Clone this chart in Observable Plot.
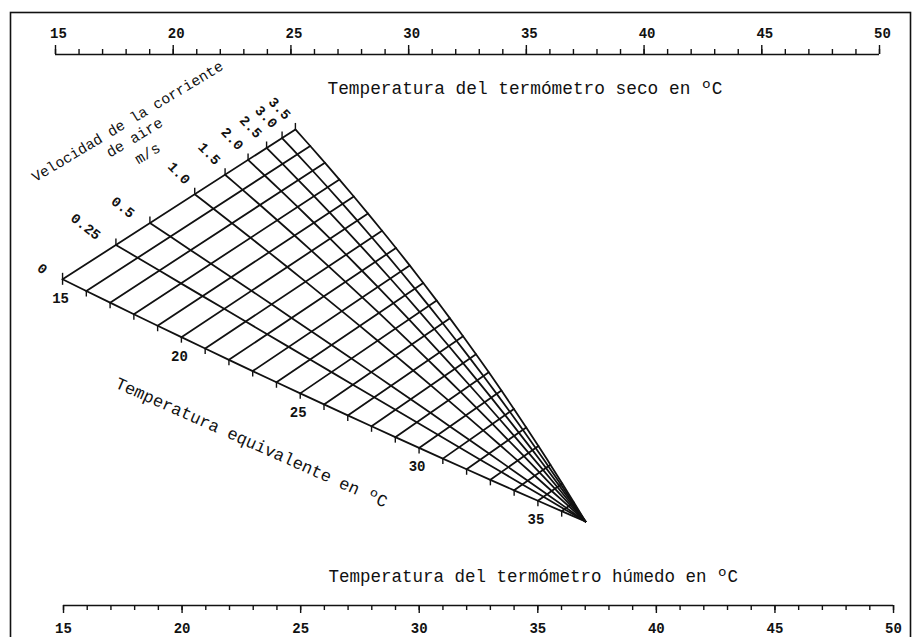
<!DOCTYPE html>
<html>
<head>
<meta charset="utf-8">
<script src="https://cdn.jsdelivr.net/npm/d3@7"></script>
<script src="https://cdn.jsdelivr.net/npm/@observablehq/plot@0.6"></script>
<style>
  html, body { margin: 0; padding: 0; background: #fff; }
  #chart { width: 912px; height: 637px; overflow: hidden; }
</style>
</head>
<body>
<div id="chart"></div>
<script>
// ---------------- data ----------------
const dryBulbTicks = [15,16,17,18,19,20,21,22,23,24,25,26,27,28,29,30,31,32,33,34,35,36,37,38,39,40,41,42,43,44,45,46,47,48,49,50];
const dryBulbLabels = [15,20,25,30,35,40,45,50];
const wetBulbTicks = [15,16,17,18,19,20,21,22,23,24,25,26,27,28,29,30,31,32,33,34,35,36,37,38,39,40,41,42,43,44,45,46,47,48,49,50];
const wetBulbLabels = [15,20,25,30,35,40,45,50];
const equivalentTemps = [15,16,17,18,19,20,21,22,23,24,25,26,27,28,29,30,31,32,33,34,35,36,37];
const equivalentLines = [15,16,17,18,19,20,21,22,23,24,25,26,27,28,29,30,31,32,33,34,35,36];
const equivalentLabels = [15,20,25,30,35];
const airVelocities = [0, 0.25, 0.5, 1.0, 1.5, 2.0, 2.5, 3.0, 3.5];
const velocityLabels = ["0", "0.25", "0.5", "1.0", "1.5", "2.0", "2.5", "3.0", "3.5"];

const topTitle = "Temperatura del termómetro seco en ºC";
const bottomTitle = "Temperatura del termómetro húmedo en ºC";
const velocityTitle = ["Velocidad de la corriente", "de aire", "m/s"];
const equivalentTitle = "Temperatura equivalente en ºC";

// ---------------- nomogram construction ----------------
// chart units: x = °C on the dry-bulb scale, y = 0 at dry-bulb scale, 1 at wet-bulb scale
const etMin = 15, etApex = 37, vMax = 3.5;
const fanStart = {x: 15.30, y: 0.408};   // ET 15, v = 0
const fanTop   = {x: 25.19, y: 0.136};   // ET 15, v = 3.5
const fanApex  = {x: 37.51, y: 0.8475};  // convergence of the fan
const fanBulge = {x: 32.16, y: 0.466};   // control point of the curved v = 3.5 edge
const sag = 0.0073;
const wetShift = 0.34, wetStretch = 1.0073; // wet-bulb scale offset in the original print
const wetX = (t) => etMin + wetShift + (t - etMin) * wetStretch;

const vPos = d3.scaleSymlog().constant(1 / 3).domain([0, vMax]).range([0, 1]);

function edge0(t) {
  const s = (t - etMin) / (etApex - etMin);
  return {
    x: fanStart.x + s * (fanApex.x - fanStart.x),
    y: fanStart.y + s * (fanApex.y - fanStart.y) + 4 * sag * s * (1 - s)
  };
}
function edge1(t) {
  const s = (t - etMin) / (etApex - etMin);
  const a = (1 - s) * (1 - s), b = 2 * s * (1 - s), c = s * s;
  return {
    x: a * fanTop.x + b * fanBulge.x + c * fanApex.x,
    y: a * fanTop.y + b * fanBulge.y + c * fanApex.y
  };
}
function node(t, v) {
  const p = edge0(t), q = edge1(t), f = vPos(v);
  return {t, v, x: p.x + f * (q.x - p.x), y: p.y + f * (q.y - p.y)};
}

const etSegments = equivalentLines.flatMap((t) => [node(t, 0), node(t, vMax)]);
const velocityCurves = airVelocities.flatMap((v) => equivalentTemps.map((t) => node(t, v)));
const etTickNodes = equivalentLines.map((t) => node(t, 0));
const etLabelNodes = equivalentLabels.map((t) => node(t, 0));
const vNodes = airVelocities.map((v, i) => ({...node(etMin, v), label: velocityLabels[i]}));

const mono = "Liberation Mono, DejaVu Sans Mono, monospace";
const ink = "#111";
const note = (text, dx, dy, extra = {}) =>
  Plot.text([text], {frameAnchor: "top-left", text: (d) => d, dx, dy,
    textAnchor: "middle", lineAnchor: "middle", fontFamily: mono, fill: ink, ...extra});

const chart = Plot.plot({
  width: 912,
  height: 637,
  marginLeft: 10,
  marginRight: 2,
  marginTop: 12,
  marginBottom: 0,
  style: {background: "#fff"},
  x: {type: "linear", domain: [15, 50], range: [55, 879], axis: null},
  y: {type: "linear", domain: [0, 1], range: [54, 605], axis: null},
  marks: [
    Plot.frame({stroke: ink, strokeWidth: 1.6, insetBottom: -10}),

    // dry-bulb scale (top)
    Plot.ruleY([0], {x1: 15, x2: 50, stroke: ink, strokeWidth: 1.7}),
    Plot.ruleX(dryBulbTicks, {x: (d) => d, y1: 0, y2: 0, insetTop: -5, stroke: ink, strokeWidth: 1.4}),
    Plot.ruleX(dryBulbLabels, {x: (d) => d, y1: 0, y2: 0, insetTop: -9, stroke: ink, strokeWidth: 1.4}),
    Plot.text(dryBulbLabels, {x: (d) => d, y: 0, text: (d) => String(d), dx: 3, dy: -21,
      fontFamily: mono, fontSize: 14, fontWeight: "bold", fill: ink}),
    note(topTitle, 317, 76, {textAnchor: "start", fontSize: 17.8}),

    // wet-bulb scale (bottom)
    Plot.ruleY([1], {x1: wetX(15), x2: wetX(50), stroke: ink, strokeWidth: 1.7}),
    Plot.ruleX(wetBulbTicks, {x: wetX, y1: 1, y2: 1, insetBottom: -5, stroke: ink, strokeWidth: 1.4}),
    Plot.ruleX(wetBulbLabels, {x: wetX, y1: 1, y2: 1, insetBottom: -8, stroke: ink, strokeWidth: 1.4}),
    Plot.text(wetBulbLabels, {x: wetX, y: 1, text: (d) => String(d), dy: 23,
      fontFamily: mono, fontSize: 14, fontWeight: "bold", fill: ink}),
    note(bottomTitle, 318, 564, {textAnchor: "start", fontSize: 17.5}),

    // fan grid
    Plot.line(etSegments, {x: "x", y: "y", z: "t", stroke: ink, strokeWidth: 1.8}),
    Plot.line(velocityCurves, {x: "x", y: "y", z: "v", curve: "catmull-rom", stroke: ink, strokeWidth: 1.8}),

    // equivalent temperature ticks and labels
    Plot.ruleX(etTickNodes, {x: "x", y1: "y", y2: "y", insetBottom: -6, stroke: ink, strokeWidth: 1.4}),
    Plot.text(etLabelNodes, {x: "x", y: "y", text: (d) => String(d.t), dx: -2, dy: 19,
      fontFamily: mono, fontSize: 14, fontWeight: "bold", fill: ink}),
    note(equivalentTitle, 241, 430, {rotate: 24, fontSize: 17}),

    // velocity ticks and labels
    Plot.ruleX(vNodes, {x: "x", y1: "y", y2: "y", insetTop: -6, stroke: ink, strokeWidth: 1.4}),
    Plot.text(vNodes.filter((d) => d.v <= 0.5), {x: "x", y: "y", text: "label", rotate: 38,
      textAnchor: "end", dx: -17, dy: -8, fontFamily: mono, fontSize: 14, fontWeight: "bold", fill: ink}),
    Plot.text(vNodes.filter((d) => d.v > 0.5), {x: "x", y: "y", text: "label", rotate: 46,
      textAnchor: "end", dx: -7, dy: -12, fontFamily: mono, fontSize: 14, fontWeight: "bold", fill: ink}),
    note(velocityTitle[0], 117, 109, {rotate: -31, fontSize: 14.7}),
    note(velocityTitle[1], 124, 125, {rotate: -31, fontSize: 15}),
    note(velocityTitle[2], 137, 141, {rotate: -31, fontSize: 15})
  ]
});
document.getElementById("chart").append(chart);
</script>
</body>
</html>
